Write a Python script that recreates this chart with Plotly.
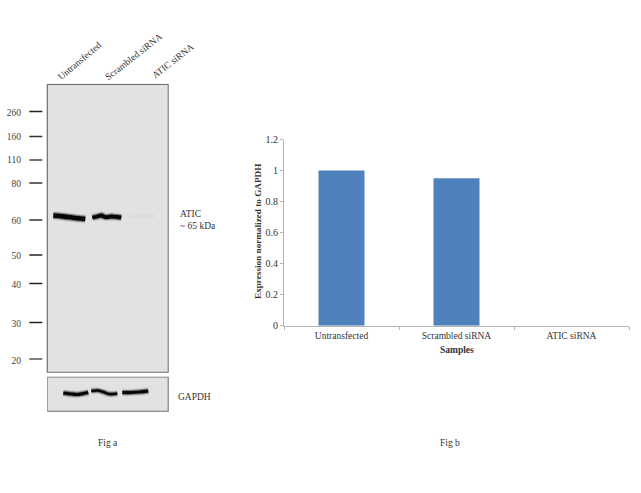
"""Western blot panel (Fig a) next to a normalised expression bar chart (Fig b)."""
import plotly.graph_objects as go

W, H = 641, 493
FONT = "Liberation Serif"
INK = "#333333"

# ── Fig b data ──────────────────────────────────────────────────────────────
samples = ["Untransfected", "Scrambled siRNA", "ATIC siRNA"]
expression = [1.0, 0.95, 0.0]
y_ticks = [0, 0.2, 0.4, 0.6, 0.8, 1, 1.2]

mw_labels = ["260", "160", "110", "80", "60", "50", "40", "30", "20"]
mw_pos = [111.5, 136.5, 160, 183, 220, 255, 283.5, 322.5, 359]
mw_label_pos = [113, 137, 160, 184, 221, 256, 285, 324, 361]
mw_tick_x = [-18, -5]
mw_colors = ["#222", "#333", "#444", "#333", "#333", "#222", "#222", "#222", "#555"]

atic_lane1_x = [6, 12, 20, 28, 33, 38]
atic_lane1_y = [215.5, 216, 217, 218, 218.5, 219]
atic_lane2_x = [45, 50, 54, 58, 64, 70, 74]
atic_lane2_y = [217.5, 216.5, 215.5, 217, 216.5, 217, 217.5]
atic_lane3_x = [82, 95, 108]
atic_lane3_y = [217, 216, 216]

gapdh_lane1_x = [16, 24, 30, 36, 41]
gapdh_lane1_y = [393, 394, 394.5, 393.5, 392.5]
gapdh_lane2_x = [44, 50, 56, 62, 70]
gapdh_lane2_y = [391, 390.5, 392, 394, 393.5]
gapdh_lane3_x = [75, 84, 92, 101]
gapdh_lane3_y = [392.5, 392.5, 392, 391]

fig = go.Figure()


def px_x(x):
    return x / W


def px_y(y):
    return 1 - y / H


def add_band(x, y, xaxis, yaxis, core=4.0, color="0,0,0", strength=1.0):
    # soft edge first, dark core on top, mimics the film blur
    for width, alpha in [(core + 4, 0.14), (core + 2, 0.35), (core, 0.95)]:
        fig.add_trace(go.Scatter(
            x=x, y=y, mode="lines", xaxis=xaxis, yaxis=yaxis,
            line=dict(color=f"rgba({color},{alpha * strength})", width=width, shape="spline"),
            hoverinfo="skip", showlegend=False,
        ))


# ── Fig b ───────────────────────────────────────────────────────────────────
fig.add_trace(go.Bar(
    x=samples, y=expression, width=0.4,
    marker=dict(color="#4f81bd", line_width=0),
    showlegend=False,
))

# ── Fig a ladder ────────────────────────────────────────────────────────────
for pos, col in zip(mw_pos, mw_colors):
    fig.add_trace(go.Scatter(
        x=mw_tick_x, y=[pos, pos], mode="lines", xaxis="x2", yaxis="y2",
        line=dict(color=col, width=1.3),
        hoverinfo="skip", showlegend=False,
    ))

# ── Fig a bands ─────────────────────────────────────────────────────────────
add_band(atic_lane1_x, atic_lane1_y, "x2", "y2", core=4.6)
add_band(atic_lane2_x, atic_lane2_y, "x2", "y2", core=3.8)
add_band(atic_lane3_x, atic_lane3_y, "x2", "y2", core=2.5, strength=0.018)
add_band(gapdh_lane1_x, gapdh_lane1_y, "x3", "y3", core=3.2)
add_band(gapdh_lane2_x, gapdh_lane2_y, "x3", "y3", core=2.6)
add_band(gapdh_lane3_x, gapdh_lane3_y, "x3", "y3", core=3.2)

panel_line = dict(showline=False, showgrid=False, zeroline=False, automargin=False)
panel_border = dict(color="#6e6e6e", width=1.2)

fig.update_layout(
    width=W, height=H,
    margin=dict(l=0, r=0, t=0, b=0, pad=0, autoexpand=False),
    paper_bgcolor="white", plot_bgcolor="rgba(0,0,0,0)",
    font=dict(family=FONT, color=INK, size=10),
    showlegend=False,
    bargap=0.6,
    # bar chart
    xaxis=dict(
        domain=[px_x(284), px_x(629)], anchor="y", automargin=False,
        tickson="boundaries", ticks="outside", ticklen=3, tickcolor="#b5b5b5",
        showline=True, linecolor="#b5b5b5", linewidth=1, showgrid=False,
        tickfont=dict(size=9.5, color=INK), ticklabelstandoff=1,
    ),
    yaxis=dict(
        domain=[px_y(325.7), px_y(139.5)], anchor="x", automargin=False,
        range=[0, 1.2], tickvals=y_ticks, ticktext=[str(t) for t in y_ticks],
        ticks="outside", ticklen=3, tickcolor="#b5b5b5",
        showline=True, linecolor="#b5b5b5", linewidth=1, showgrid=False, zeroline=False,
        tickfont=dict(size=10, color=INK),
    ),
    # ATIC blot, domain reaches left so the ladder marks stay inside the plot area
    xaxis2=dict(
        domain=[px_x(29), px_x(168.8)], anchor="y2",
        range=[-18.3, 121.5], showticklabels=False, ticks="", **panel_line,
    ),
    yaxis2=dict(
        domain=[px_y(372.8), px_y(83.8)], anchor="x2",
        range=[372.8, 83.8], tickvals=mw_label_pos, ticktext=mw_labels,
        ticks="", ticklabelstandoff=7, tickfont=dict(size=9.5, color="#444"), **panel_line,
    ),
    # GAPDH blot
    xaxis3=dict(
        domain=[px_x(47.3), px_x(168.8)], anchor="y3",
        range=[0, 121.5], showticklabels=False, ticks="", **panel_line,
    ),
    yaxis3=dict(
        domain=[px_y(411.8), px_y(376.5)], anchor="x3",
        range=[411.8, 376.5], showticklabels=False, ticks="", **panel_line,
    ),
    shapes=[
        dict(type="rect", xref="x2", yref="y2", x0=0, x1=121, y0=84.3, y1=372.3,
             fillcolor="#e2e2e2", line=panel_border, layer="below"),
        dict(type="rect", xref="x3", yref="y3", x0=0, x1=121, y0=377, y1=411.3,
             fillcolor="#e2e2e2", line=panel_border, layer="below"),
    ],
)

# ── Free text ───────────────────────────────────────────────────────────────
notes = [
    ("Untransfected", 79.5, 61, -40, 9.5, "center", False),
    ("Scrambled siRNA", 133.5, 57, -38, 9.5, "center", False),
    ("ATIC siRNA", 173, 61, -38, 9.5, "center", False),
    ("ATIC", 177.5, 214, 0, 9.5, "left", False),
    ("~ 65 kDa", 177.5, 225.5, 0, 9.5, "left", False),
    ("GAPDH", 176, 396.5, 0, 9.5, "left", False),
    ("Fig a", 108, 442.5, 0, 9.5, "center", False),
    ("Fig b", 450, 442.5, 0, 9.5, "center", False),
    ("Samples", 457, 350, 0, 9.5, "center", True),
    ("Expression normalized to GAPDH", 258, 232, -90, 9.2, "center", True),
]
for text, x, y, angle, size, align, bold in notes:
    fig.add_annotation(
        text=f"<b>{text}</b>" if bold else text,
        x=px_x(x), y=px_y(y), xref="paper", yref="paper",
        xanchor=align if angle == 0 else "center", yanchor="middle",
        textangle=angle, showarrow=False, font=dict(size=size, color=INK),
    )

# page margin off so the figure sits at the window corner
fig.write_html(
    "out.html",
    config={"displayModeBar": False},
    post_script="document.body.style.margin='0';",
)
